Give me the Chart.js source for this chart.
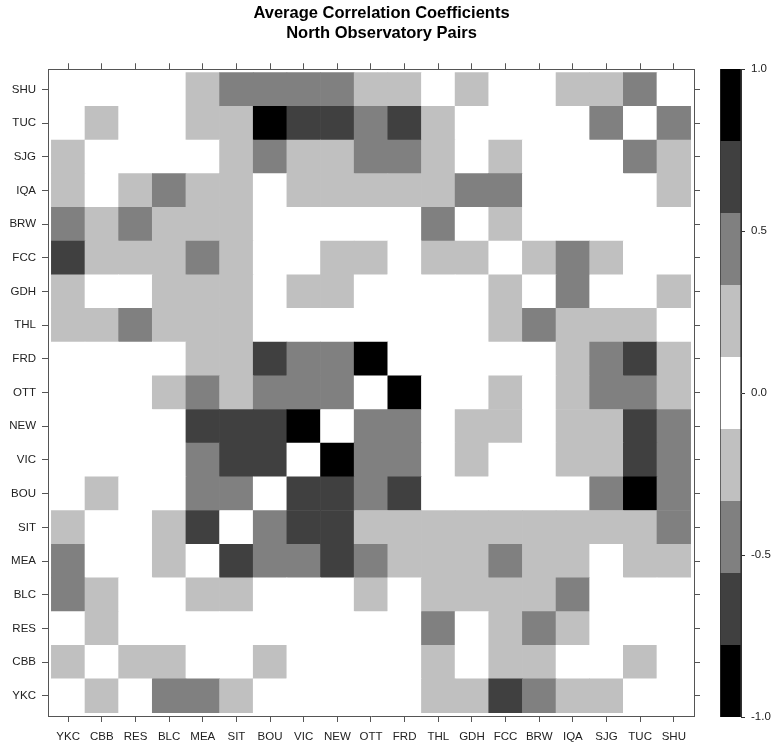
<!DOCTYPE html>
<html>
<head>
<meta charset="utf-8">
<script src="https://cdn.jsdelivr.net/npm/chart.js@4.4.1/dist/chart.umd.min.js"></script>
<style>
  html, body { margin: 0; padding: 0; background: #ffffff; }
  #wrap { position: relative; width: 771px; height: 746px; }
  #main { position: absolute; left: 0; top: 0; }
  #key { position: absolute; left: 700px; top: 0; }
</style>
</head>
<body>
<div id="wrap">
  <canvas id="main" width="771" height="746"></canvas>
  <canvas id="key" width="71" height="746"></canvas>
</div>
<script>
// Observatory codes, bottom-to-top on the y axis and left-to-right on the x axis
const stations = ['YKC','CBB','RES','BLC','MEA','SIT','BOU','VIC','NEW','OTT',
                  'FRD','THL','GDH','FCC','BRW','IQA','SJG','TUC','SHU'];

// Average correlation coefficient of each station with every other station
const rowYKC = [0,0.22,0,0.44,0.44,0.22,0,0,0,0,0,0.22,0.22,0.67,0.44,0.22,0.22,0,0];
const rowCBB = [0.22,0,0.22,0.22,0,0,0.22,0,0,0,0,0.22,0,0.22,0.22,0,0,0.22,0];
const rowRES = [0,0.22,0,0,0,0,0,0,0,0,0,0.44,0,0.22,0.44,0.22,0,0,0];
const rowBLC = [0.44,0.22,0,0,0.22,0.22,0,0,0,0.22,0,0.22,0.22,0.22,0.22,0.44,0,0,0];
const rowMEA = [0.44,0,0,0.22,0,0.67,0.44,0.44,0.67,0.44,0.22,0.22,0.22,0.44,0.22,0.22,0,0.22,0.22];
const rowSIT = [0.22,0,0,0.22,0.67,0,0.44,0.67,0.67,0.22,0.22,0.22,0.22,0.22,0.22,0.22,0.22,0.22,0.44];
const rowBOU = [0,0.22,0,0,0.44,0.44,0,0.67,0.67,0.44,0.67,0,0,0,0,0,0.44,0.89,0.44];
const rowVIC = [0,0,0,0,0.44,0.67,0.67,0,0.89,0.44,0.44,0,0.22,0,0,0.22,0.22,0.67,0.44];
const rowNEW = [0,0,0,0,0.67,0.67,0.67,0.89,0,0.44,0.44,0,0.22,0.22,0,0.22,0.22,0.67,0.44];
const rowOTT = [0,0,0,0.22,0.44,0.22,0.44,0.44,0.44,0,0.89,0,0,0.22,0,0.22,0.44,0.44,0.22];
const rowFRD = [0,0,0,0,0.22,0.22,0.67,0.44,0.44,0.89,0,0,0,0,0,0.22,0.44,0.67,0.22];
const rowTHL = [0.22,0.22,0.44,0.22,0.22,0.22,0,0,0,0,0,0,0,0.22,0.44,0.22,0.22,0.22,0];
const rowGDH = [0.22,0,0,0.22,0.22,0.22,0,0.22,0.22,0,0,0,0,0.22,0,0.44,0,0,0.22];
const rowFCC = [0.67,0.22,0.22,0.22,0.44,0.22,0,0,0.22,0.22,0,0.22,0.22,0,0.22,0.44,0.22,0,0];
const rowBRW = [0.44,0.22,0.44,0.22,0.22,0.22,0,0,0,0,0,0.44,0,0.22,0,0,0,0,0];
const rowIQA = [0.22,0,0.22,0.44,0.22,0.22,0,0.22,0.22,0.22,0.22,0.22,0.44,0.44,0,0,0,0,0.22];
const rowSJG = [0.22,0,0,0,0,0.22,0.44,0.22,0.22,0.44,0.44,0.22,0,0.22,0,0,0,0.44,0.22];
const rowTUC = [0,0.22,0,0,0.22,0.22,0.89,0.67,0.67,0.44,0.67,0.22,0,0,0,0,0.44,0,0.44];
const rowSHU = [0,0,0,0,0.22,0.44,0.44,0.44,0.44,0.22,0.22,0,0.22,0,0,0.22,0.22,0.44,0];

const rows = [rowYKC,rowCBB,rowRES,rowBLC,rowMEA,rowSIT,rowBOU,rowVIC,rowNEW,rowOTT,
              rowFRD,rowTHL,rowGDH,rowFCC,rowBRW,rowIQA,rowSJG,rowTUC,rowSHU];

// Colour key: nine equal bands from -1 to 1
const keyBreaks = [-1, -0.7778, -0.5556, -0.3333, -0.1111, 0.1111, 0.3333, 0.5556, 0.7778, 1];
const keyColors = ['#000000','#404040','#808080','#c0c0c0','#ffffff',
                   '#c0c0c0','#808080','#404040','#000000'];
const keyTicks = [-1, -0.5, 0, 0.5, 1];

const mainTitle = ['Average Correlation Coefficients', 'North Observatory Pairs'];

function colorFor(v) {
  for (let k = 0; k < keyColors.length; k++) {
    if (v >= keyBreaks[k] && v <= keyBreaks[k + 1]) return keyColors[k];
  }
  return '#ffffff';
}

const FONT = 'Liberation Sans, Arial, Helvetica, sans-serif';
const AXIS = '#555555';
const stationTicks = s => { s.ticks = stations.map((_, i) => ({ value: i })); };

function cellAxis(position, size, showLabels) {
  const horizontal = position === 'top' || position === 'bottom';
  return {
    type: 'linear',
    position,
    min: -0.6,
    max: 18.6,
    offset: false,
    afterBuildTicks: stationTicks,
    afterFit: s => { if (horizontal) s.height = size; else s.width = size; },
    grid: { offset: false, drawOnChartArea: false, drawTicks: true, tickLength: 6, color: AXIS, lineWidth: 1 },
    border: { display: true, color: AXIS, width: 1 },
    ticks: {
      display: showLabels,
      autoSkip: false,
      maxRotation: 0,
      padding: horizontal ? 8 : 6,
      color: '#222222',
      font: { family: FONT, size: 11.5 },
      callback: v => stations[v]
    }
  };
}

// One dataset per row: each cell is a floating bar spanning one unit on the y scale
const cellSets = rows.map((vals, j) => ({
  label: stations[j],
  data: vals.map((v, i) => ({ x: i, y: [j - 0.5, j + 0.5] })),
  backgroundColor: vals.map(colorFor),
  borderWidth: 0,
  barPercentage: 1,
  categoryPercentage: 1,
  grouped: false
}));

new Chart(document.getElementById('main'), {
  type: 'bar',
  data: { datasets: cellSets },
  options: {
    responsive: false,
    animation: false,
    layout: { padding: { left: 0, top: 0, bottom: 0, right: 8 } },
    plugins: {
      legend: { display: false },
      tooltip: { enabled: false },
      title: {
        display: true,
        text: mainTitle,
        color: '#000000',
        font: { family: FONT, size: 16.5, weight: 'bold', lineHeight: 1.25 },
        padding: { top: 3, bottom: 8 }
      }
    },
    scales: {
      x: cellAxis('bottom', 30, true),
      x2: cellAxis('top', 17, false),
      y: cellAxis('left', 48, true),
      y2: cellAxis('right', 69, false)
    }
  }
});

// Colour key drawn as stacked floating bars on a -1..1 scale
const keySets = keyColors.map((c, k) => ({
  data: [[keyBreaks[k], keyBreaks[k + 1]]],
  backgroundColor: c,
  borderColor: '#333333',
  borderWidth: { left: 1, right: 1, top: 0, bottom: 0 },
  borderSkipped: false,
  barPercentage: 1,
  categoryPercentage: 1,
  grouped: false
}));

new Chart(document.getElementById('key'), {
  type: 'bar',
  data: { labels: [''], datasets: keySets },
  options: {
    responsive: false,
    animation: false,
    layout: { padding: { left: 20, top: 69, bottom: 29, right: 0 } },
    plugins: { legend: { display: false }, tooltip: { enabled: false }, title: { display: false } },
    scales: {
      x: { display: false },
      y: {
        type: 'linear',
        position: 'right',
        min: -1,
        max: 1,
        afterBuildTicks: s => { s.ticks = keyTicks.map(v => ({ value: v })); },
        afterFit: s => { s.width = 30; },
        grid: { drawOnChartArea: false, drawTicks: true, tickLength: 4, color: '#333333' },
        border: { display: true, color: '#333333' },
        ticks: {
          padding: 6,
          color: '#222222',
          font: { family: FONT, size: 11.5 },
          callback: v => Number(v).toFixed(1)
        }
      }
    }
  }
});
</script>
</body>
</html>
